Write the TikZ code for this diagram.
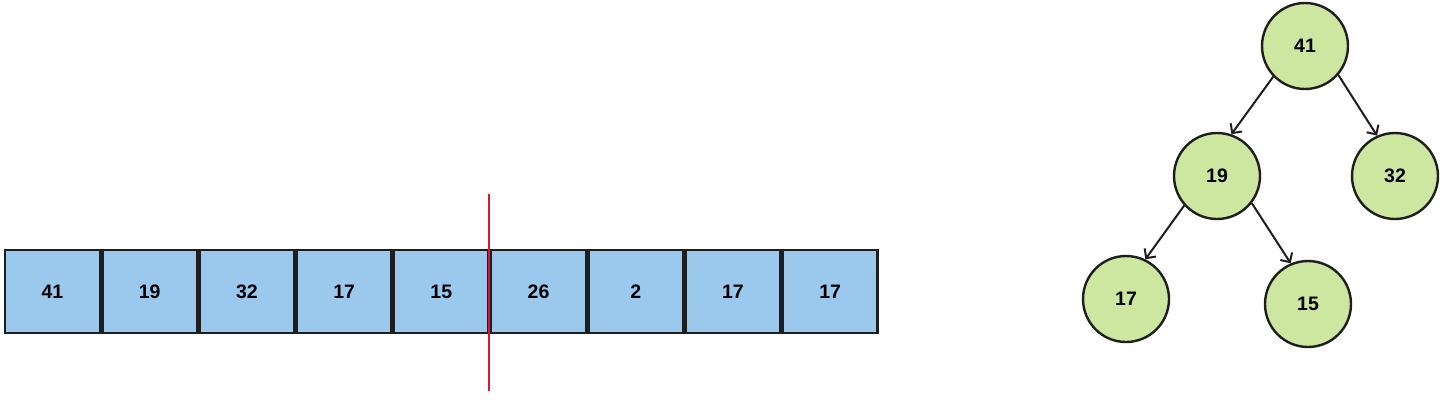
\documentclass[tikz,border=0pt]{standalone}
\usepackage{fontspec}
\setmainfont{Liberation Sans}
\usetikzlibrary{arrows.meta}
\definecolor{cellblue}{RGB}{155,200,237}
\definecolor{nodegreen}{RGB}{205,230,160}
\definecolor{ink}{RGB}{30,30,30}
\definecolor{cutred}{RGB}{225,20,45}
\tikzset{
  cell/.style={draw=ink, line width=2.7pt, fill=cellblue, minimum width=95pt, minimum height=83pt, inner sep=0pt, font=\fontsize{19.5}{22}\selectfont\bfseries},
  heapnode/.style={circle, draw=ink, line width=2.4pt, fill=nodegreen, minimum size=86pt, inner sep=0pt, font=\fontsize{19.5}{22}\selectfont\bfseries},
  edge/.style={draw=ink, line width=2pt, -{Straight Barb[length=7pt,width=14pt,line width=2pt]}}
}
\begin{document}
\begin{tikzpicture}[x=1pt,y=-1pt]
\useasboundingbox (0,0) rectangle (1445,405);
\foreach \v [count=\i from 0] in {41,19,32,17,15,26,2,17,17} {
  \node[cell] (c\i) at (52.5+97.2*\i,291.5) {\v};
}
\coordinate (cuttop) at (489,194);
\coordinate (cutbot) at (489,391);
\draw[cutred, line width=2pt] (cuttop) -- (cutbot);

\node[heapnode] (n41) at (1305,46) {41};
\node[heapnode] (n19) at (1217,176) {19};
\node[heapnode] (n32) at (1395,176) {32};
\node[heapnode] (n17) at (1126,299) {17};
\node[heapnode] (n15) at (1308,304) {15};
\draw[edge] (n41.224) -- (n19.71);
\draw[edge] (n41.319) -- (n32.114);
\draw[edge] (n19.222) -- (n17.64);
\draw[edge] (n19.322) -- (n15.113);
\end{tikzpicture}
\end{document}
